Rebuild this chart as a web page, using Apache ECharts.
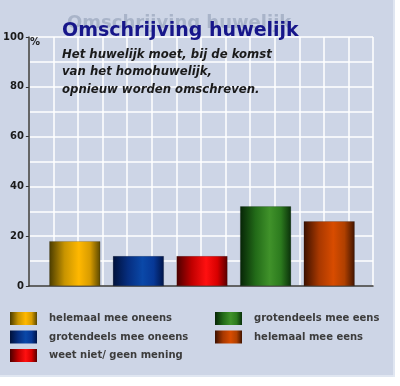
<!DOCTYPE html>
<html><head><meta charset="utf-8">
<script src="https://cdn.jsdelivr.net/npm/echarts@6/dist/echarts.min.js"></script>
<style>html,body{margin:0;padding:0;background:#fff}#c{width:400px;height:386px}</style>
</head><body><div id="c"></div>
<script>
var categories = ['helemaal mee oneens','grotendeels mee oneens','weet niet/ geen mening','grotendeels mee eens','helemaal mee eens'];
var values = [18, 12, 12, 32, 26];
var yTicks = [0, 20, 40, 60, 80, 100];
var titleText = 'Omschrijving huwelijk';
var subLines = ['Het huwelijk moet, bij de komst','van het homohuwelijk,','opnieuw worden omschreven.'];
var palette = [
  ['#4a3c00','#c89400','#ffb800','#d89c00','#5a4800'],
  ['#00113a','#062e80','#0a48a8','#073896','#001448'],
  ['#4a0000','#c00000','#ff1010','#d80000','#580000'],
  ['#062406','#226a18','#40922a','#2c7a1e','#0a300a'],
  ['#3a1000','#a83800','#d84c00','#b04000','#401400']
];
function grad(c){
  return {type:'linear',x:0,y:0,x2:1,y2:0,colorStops:[
    {offset:0,color:c[0]},{offset:0.3,color:c[1]},{offset:0.58,color:c[2]},{offset:0.8,color:c[3]},{offset:1,color:c[4]}]};
}
var series = categories.map(function(name,i){
  var d = categories.map(function(_,j){ return j===i ? values[j] : '-'; });
  return {name:name,type:'bar',xAxisIndex:1,yAxisIndex:1,data:d,barWidth:51,barGap:'-100%',
    itemStyle:{color:grad(palette[i]),borderColor:'rgba(0,0,0,0.35)',borderWidth:0.5},silent:true};
});
var chart = echarts.init(document.getElementById('c'));
var legText = {fontFamily:'DejaVu Sans',fontSize:10,fontWeight:'bold',color:'#3c3c3c',padding:[0,0,0,7]};
var legCommon = {orient:'vertical',top:312,padding:0,itemWidth:27,itemHeight:13,itemGap:5.5,textStyle:legText,selectedMode:false,icon:'rect',itemStyle:{borderWidth:0}};
chart.setOption({
  animation:false,
  backgroundColor:'#ffffff',
  graphic:[
    {type:'rect',shape:{x:0,y:0,width:395,height:377},style:{fill:'#cdd5e6'},z:-10},
    {type:'line',shape:{x1:394,y1:0,x2:394,y2:377},style:{stroke:'#e6ebf4',lineWidth:1.5},z:-9},
    {type:'line',shape:{x1:0,y1:376,x2:395,y2:376},style:{stroke:'#e6ebf4',lineWidth:1.5},z:-9},
    {type:'text',left:30,top:37,style:{text:'%',font:'bold 10px DejaVu Sans',fill:'#222'},z:10},
    {type:'text',left:67,top:14,style:{text:titleText,font:'bold 18px DejaVu Sans',fill:'#a9b4c9'},z:10},
    {type:'text',left:62,top:22,style:{text:titleText,font:'bold 19px DejaVu Sans',fill:'#17168a'},z:11},
    {type:'text',left:62,top:46,style:{text:subLines.join('\n'),font:'italic bold 11.7px DejaVu Sans',fill:'#1a1a1a',lineHeight:17.5},z:11}
  ],
  grid:[
    {left:25,right:27,top:37,bottom:100},
    {left:43,right:39,top:37,bottom:100}
  ],
  xAxis:[
    {type:'value',gridIndex:0,min:0,max:14,interval:1,axisLabel:{show:false},axisTick:{show:false},
      axisLine:{show:true,lineStyle:{color:'#333',width:1.5}},
      splitLine:{show:true,lineStyle:{color:'#ffffff',width:1.5}}},
    {type:'category',gridIndex:1,data:categories,show:false}
  ],
  yAxis:[
    {type:'value',gridIndex:0,min:yTicks[0],max:yTicks[yTicks.length-1],interval:20,
      axisLine:{show:true,lineStyle:{color:'#333',width:1.5}},
      axisTick:{show:true,length:3,lineStyle:{color:'#333'}},
      axisLabel:{color:'#1a1a1a',fontFamily:'DejaVu Sans',fontSize:10,fontWeight:'bold',margin:5},
      splitLine:{show:true,lineStyle:{color:'#ffffff',width:1.5}},
      minorTick:{show:false,splitNumber:2},
      minorSplitLine:{show:true,lineStyle:{color:'#ffffff',width:1.5}}},
    {type:'value',gridIndex:1,min:0,max:100,show:false}
  ],
  legend:[
    Object.assign({data:categories.slice(0,3),left:10},legCommon),
    Object.assign({data:categories.slice(3),left:215},legCommon)
  ],
  series:series
});
</script></body></html>
